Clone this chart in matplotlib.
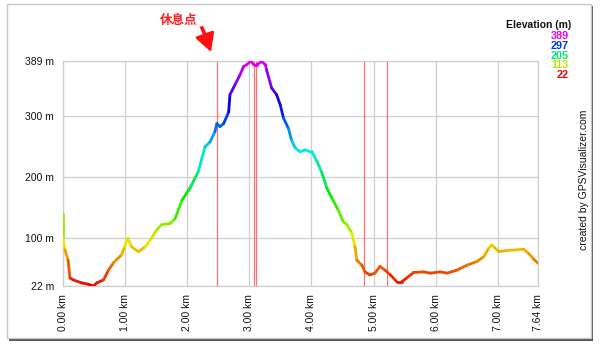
import numpy as np
import matplotlib
matplotlib.use("Agg")
import matplotlib.pyplot as plt
from matplotlib.collections import LineCollection
from matplotlib.patches import Rectangle
from matplotlib.lines import Line2D
from matplotlib.colors import hsv_to_rgb

plt.rcParams['font.family'] = ['Liberation Sans', 'DejaVu Sans']

# track profile: distance (km) and elevation (m)
dist_km = [0.00, 0.00, 0.04, 0.09, 0.12, 0.17, 0.31, 0.41, 0.50, 0.55, 0.66, 0.74,
           0.82, 0.95, 1.00, 1.05, 1.11, 1.22, 1.33, 1.43, 1.51, 1.59, 1.73, 1.81,
           1.92, 2.05, 2.18, 2.29, 2.37, 2.45, 2.48, 2.53, 2.59, 2.67, 2.69, 2.77,
           2.85, 2.91, 2.96, 3.03, 3.07, 3.12, 3.20, 3.26, 3.28, 3.36, 3.44, 3.50,
           3.55, 3.63, 3.68, 3.74, 3.82, 3.90, 3.98, 4.01, 4.09, 4.17, 4.25, 4.33,
           4.43, 4.51, 4.57, 4.65, 4.70, 4.73, 4.81, 4.86, 4.94, 5.02, 5.10, 5.18,
           5.27, 5.37, 5.45, 5.53, 5.64, 5.80, 5.91, 6.07, 6.18, 6.34, 6.50, 6.66,
           6.77, 6.85, 6.90, 6.95, 7.01, 7.14, 7.30, 7.41, 7.49, 7.57, 7.64]
elev_m = [139, 102, 81, 64, 35, 32, 27, 25, 22, 27, 32, 48,
          60, 73, 86, 100, 86, 78, 86, 100, 113, 122, 124, 132,
          162, 182, 208, 249, 257, 274, 287, 282, 287, 306, 334, 350,
          366, 380, 383, 389, 383, 383, 388, 383, 374, 345, 334, 317,
          296, 279, 260, 247, 241, 244, 241, 241, 225, 206, 181, 165,
          146, 127, 122, 108, 86, 64, 56, 45, 40, 43, 54, 48,
          40, 29, 29, 35, 44, 45, 43, 45, 43, 48, 56, 62,
          70, 84, 89, 84, 78, 80, 81, 82, 75, 66, 59]

# rest stops / waypoints marked along the track (km)
marker_km = [2.48, 3.07, 3.11, 4.84, 5.21]

y_ticks = [22, 100, 200, 300, 389]
x_ticks = [0, 1, 2, 3, 4, 5, 6, 7, 7.64]
x_labels = ["0.00 km", "1.00 km", "2.00 km", "3.00 km", "4.00 km",
            "5.00 km", "6.00 km", "7.00 km", "7.64 km"]
legend_vals = [389, 297, 205, 113, 22]

e_min, e_max = 22, 389


def elev_color(e):
    frac = (np.asarray(e, dtype=float) - e_min) / (e_max - e_min)
    hsv = np.stack([frac * 300 / 360, np.ones_like(frac), np.full_like(frac, 0.92)], axis=-1)
    return hsv_to_rgb(hsv)


fig = plt.figure(figsize=(6.0, 3.46), dpi=100)

# outer frame with a drop shadow
fig.patches.append(Rectangle((9 / 600, 1 - 341 / 346), 584 / 600, 335 / 346,
                             transform=fig.transFigure, facecolor="#555555",
                             edgecolor="none", zorder=-3))
fig.patches.append(Rectangle((7 / 600, 1 - 338 / 346), 584 / 600, 334 / 346,
                             transform=fig.transFigure, facecolor="white",
                             edgecolor="#c8c8c8", lw=1, zorder=-2))

ax = fig.add_axes([62.5 / 600, 1 - 286 / 346, 475.5 / 600, 225 / 346])
ax.set_xlim(0, 7.64)
ax.set_ylim(e_min, e_max)
ax.set_facecolor("none")

for xv in x_ticks:
    ax.axvline(xv, color="#cfcfcf", lw=0.9, zorder=1)
for yv in y_ticks:
    ax.axhline(yv, color="#cfcfcf", lw=0.9, zorder=1)
for xv in marker_km:
    ax.axvline(xv, color="#ff7070", lw=0.9, zorder=2)

pts = np.column_stack([dist_km, elev_m])
segs = np.stack([pts[:-1], pts[1:]], axis=1)
mid = (np.array(elev_m[:-1]) + np.array(elev_m[1:])) / 2
lc = LineCollection(segs, colors=elev_color(mid), lw=2.0, capstyle="round",
                    joinstyle="round", zorder=3)
ax.add_collection(lc)

for s in ax.spines.values():
    s.set_color("#cfcfcf")
    s.set_linewidth(0.9)
ax.tick_params(length=0, labelsize=7.5, colors="#111111", pad=6)
ax.set_yticks(y_ticks)
ax.set_yticklabels([f"{v} m" for v in y_ticks])
ax.set_xticks(x_ticks)
ax.set_xticklabels(x_labels, rotation=90)

# elevation legend
fig.text(571 / 600, 1 - 25 / 346, "Elevation (m)", ha="right", va="center",
         fontsize=7.5, fontweight="bold", color="#111111")
for i, v in enumerate(legend_vals):
    fig.text(569 / 600, 1 - (36 + i * 9.8) / 346, str(v), ha="right", va="center",
             fontsize=7.8, fontweight="bold", color=elev_color(v))

fig.text(584 / 600, 1 - 180 / 346, "created by GPSVisualizer.com", rotation=90,
         ha="center", va="center", fontsize=7.5, color="#111111")

# annotation for the rest stop: label, short dash and a big arrowhead
fig.text(179 / 600, 1 - 20 / 346, "休息点", ha="center", va="center", fontsize=9,
         fontweight="bold", color="#ff2020", family=["Noto Sans CJK SC", "DejaVu Sans"])
fig.lines.append(Line2D([202 / 600, 205.5 / 600], [1 - 28 / 346, 1 - 36 / 346],
                        transform=fig.transFigure, color="#ff1010", lw=2.6))
ax.annotate("", xy=(211 / 600, 1 - 52 / 346), xytext=(206 / 600, 1 - 38 / 346),
            xycoords="figure fraction", textcoords="figure fraction",
            arrowprops=dict(arrowstyle="-|>,head_length=1.1,head_width=0.6",
                            mutation_scale=10, color="#ff1010", lw=2.0,
                            shrinkA=0, shrinkB=0),
            annotation_clip=False)

fig.savefig("out.png", dpi=100)
